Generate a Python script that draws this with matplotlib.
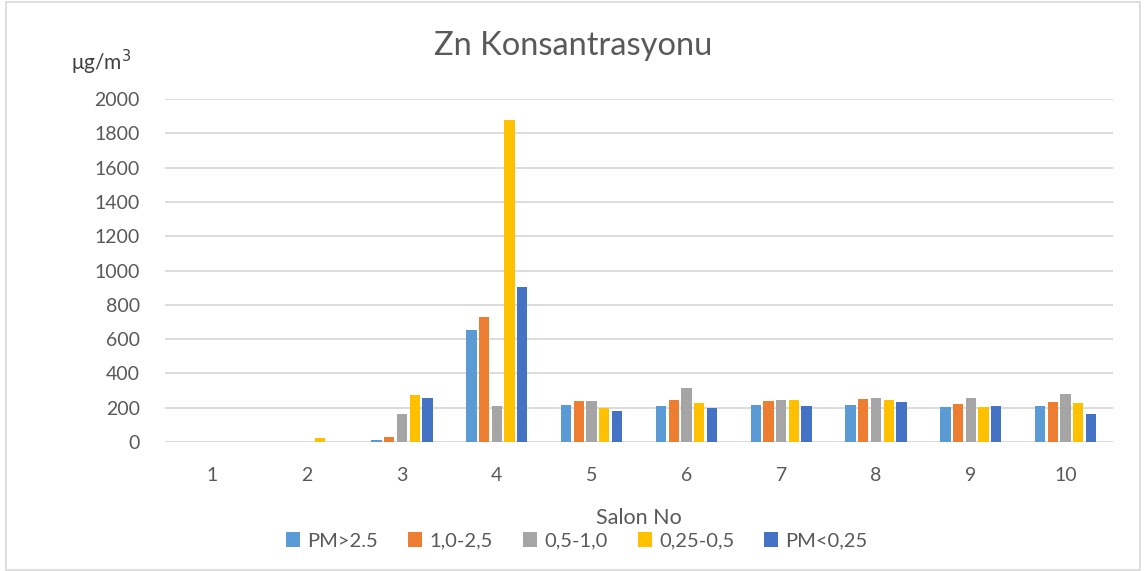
import matplotlib.pyplot as plt
import numpy as np
from matplotlib.patches import Rectangle

plt.rcParams['font.family'] = ['Lato', 'DejaVu Sans']

# Zn concentration per salon (ug/m3)
salons = ['1', '2', '3', '4', '5', '6', '7', '8', '9', '10']
series_names = ['PM>2.5', '1,0-2,5', '0,5-1,0', '0,25-0,5', 'PM<0,25']
pm_gt_25 = [0, 0, 12, 651, 215, 211, 215, 217, 206, 210]
pm_10_25 = [0, 0, 29, 727, 240, 243, 240, 250, 223, 235]
pm_05_10 = [0, 0, 163, 209, 237, 314, 245, 256, 256, 280]
pm_025_05 = [0, 24, 273, 1877, 200, 227, 247, 247, 206, 225]
pm_lt_025 = [0, 0, 257, 904, 179, 196, 210, 233, 211, 163]
colors = ['#5B9BD5', '#ED7D31', '#A5A5A5', '#FFC000', '#4472C4']

W, H = 1146, 571
fig = plt.figure(figsize=(W / 100, H / 100), dpi=100)
ax = fig.add_axes([165 / W, 1 - 442 / H, (1113 - 165) / W, (442 - 99) / H])

x = np.arange(1, len(salons) + 1)
step = 0.134
bar_w = 0.108
all_series = [pm_gt_25, pm_10_25, pm_05_10, pm_025_05, pm_lt_025]
for i, (vals, name, c) in enumerate(zip(all_series, series_names, colors)):
    ax.bar(x + (i - 2) * step, vals, width=bar_w, color=c, label=name, zorder=3)

ax.set_xlim(0.5, 10.5)
ax.set_ylim(0, 2000)
ax.set_yticks(np.arange(0, 2001, 200))
ax.set_xticks(x)
ax.set_xticklabels(salons)
ax.grid(axis='y', color='#D9D9D9', linewidth=1.3, zorder=0)
for s in ax.spines.values():
    s.set_visible(False)
ax.tick_params(length=0, labelsize=14, labelcolor='#595959')
ax.tick_params(axis='y', pad=18)
ax.tick_params(axis='x', pad=18)

ax.set_xlabel('Salon No', fontsize=15.5, color='#595959', labelpad=17)
fig.text(573 / W, 1 - 46 / H, 'Zn Konsantrasyonu', fontsize=23.5, color='#595959',
         ha='center', va='center')
fig.text(101 / W, 1 - 62 / H, 'μg/m$^3$', fontsize=15, color='#404040',
         ha='center', va='center')

ax.legend(loc='center', bbox_to_anchor=((577 - 165) / 948, (442 - 541) / (442 - 99)),
          ncol=5, frameon=False, fontsize=14.5, handlelength=0.7, handleheight=0.7,
          handletextpad=0.35, columnspacing=1.5, labelcolor='#595959')

fig.patches.append(Rectangle((6 / W, 1 - 570 / H), (1140 - 6) / W, (570 - 1.5) / H,
                             transform=fig.transFigure, fill=False,
                             edgecolor='#D9D9D9', linewidth=1.2))

fig.savefig('out.png', dpi=100)
